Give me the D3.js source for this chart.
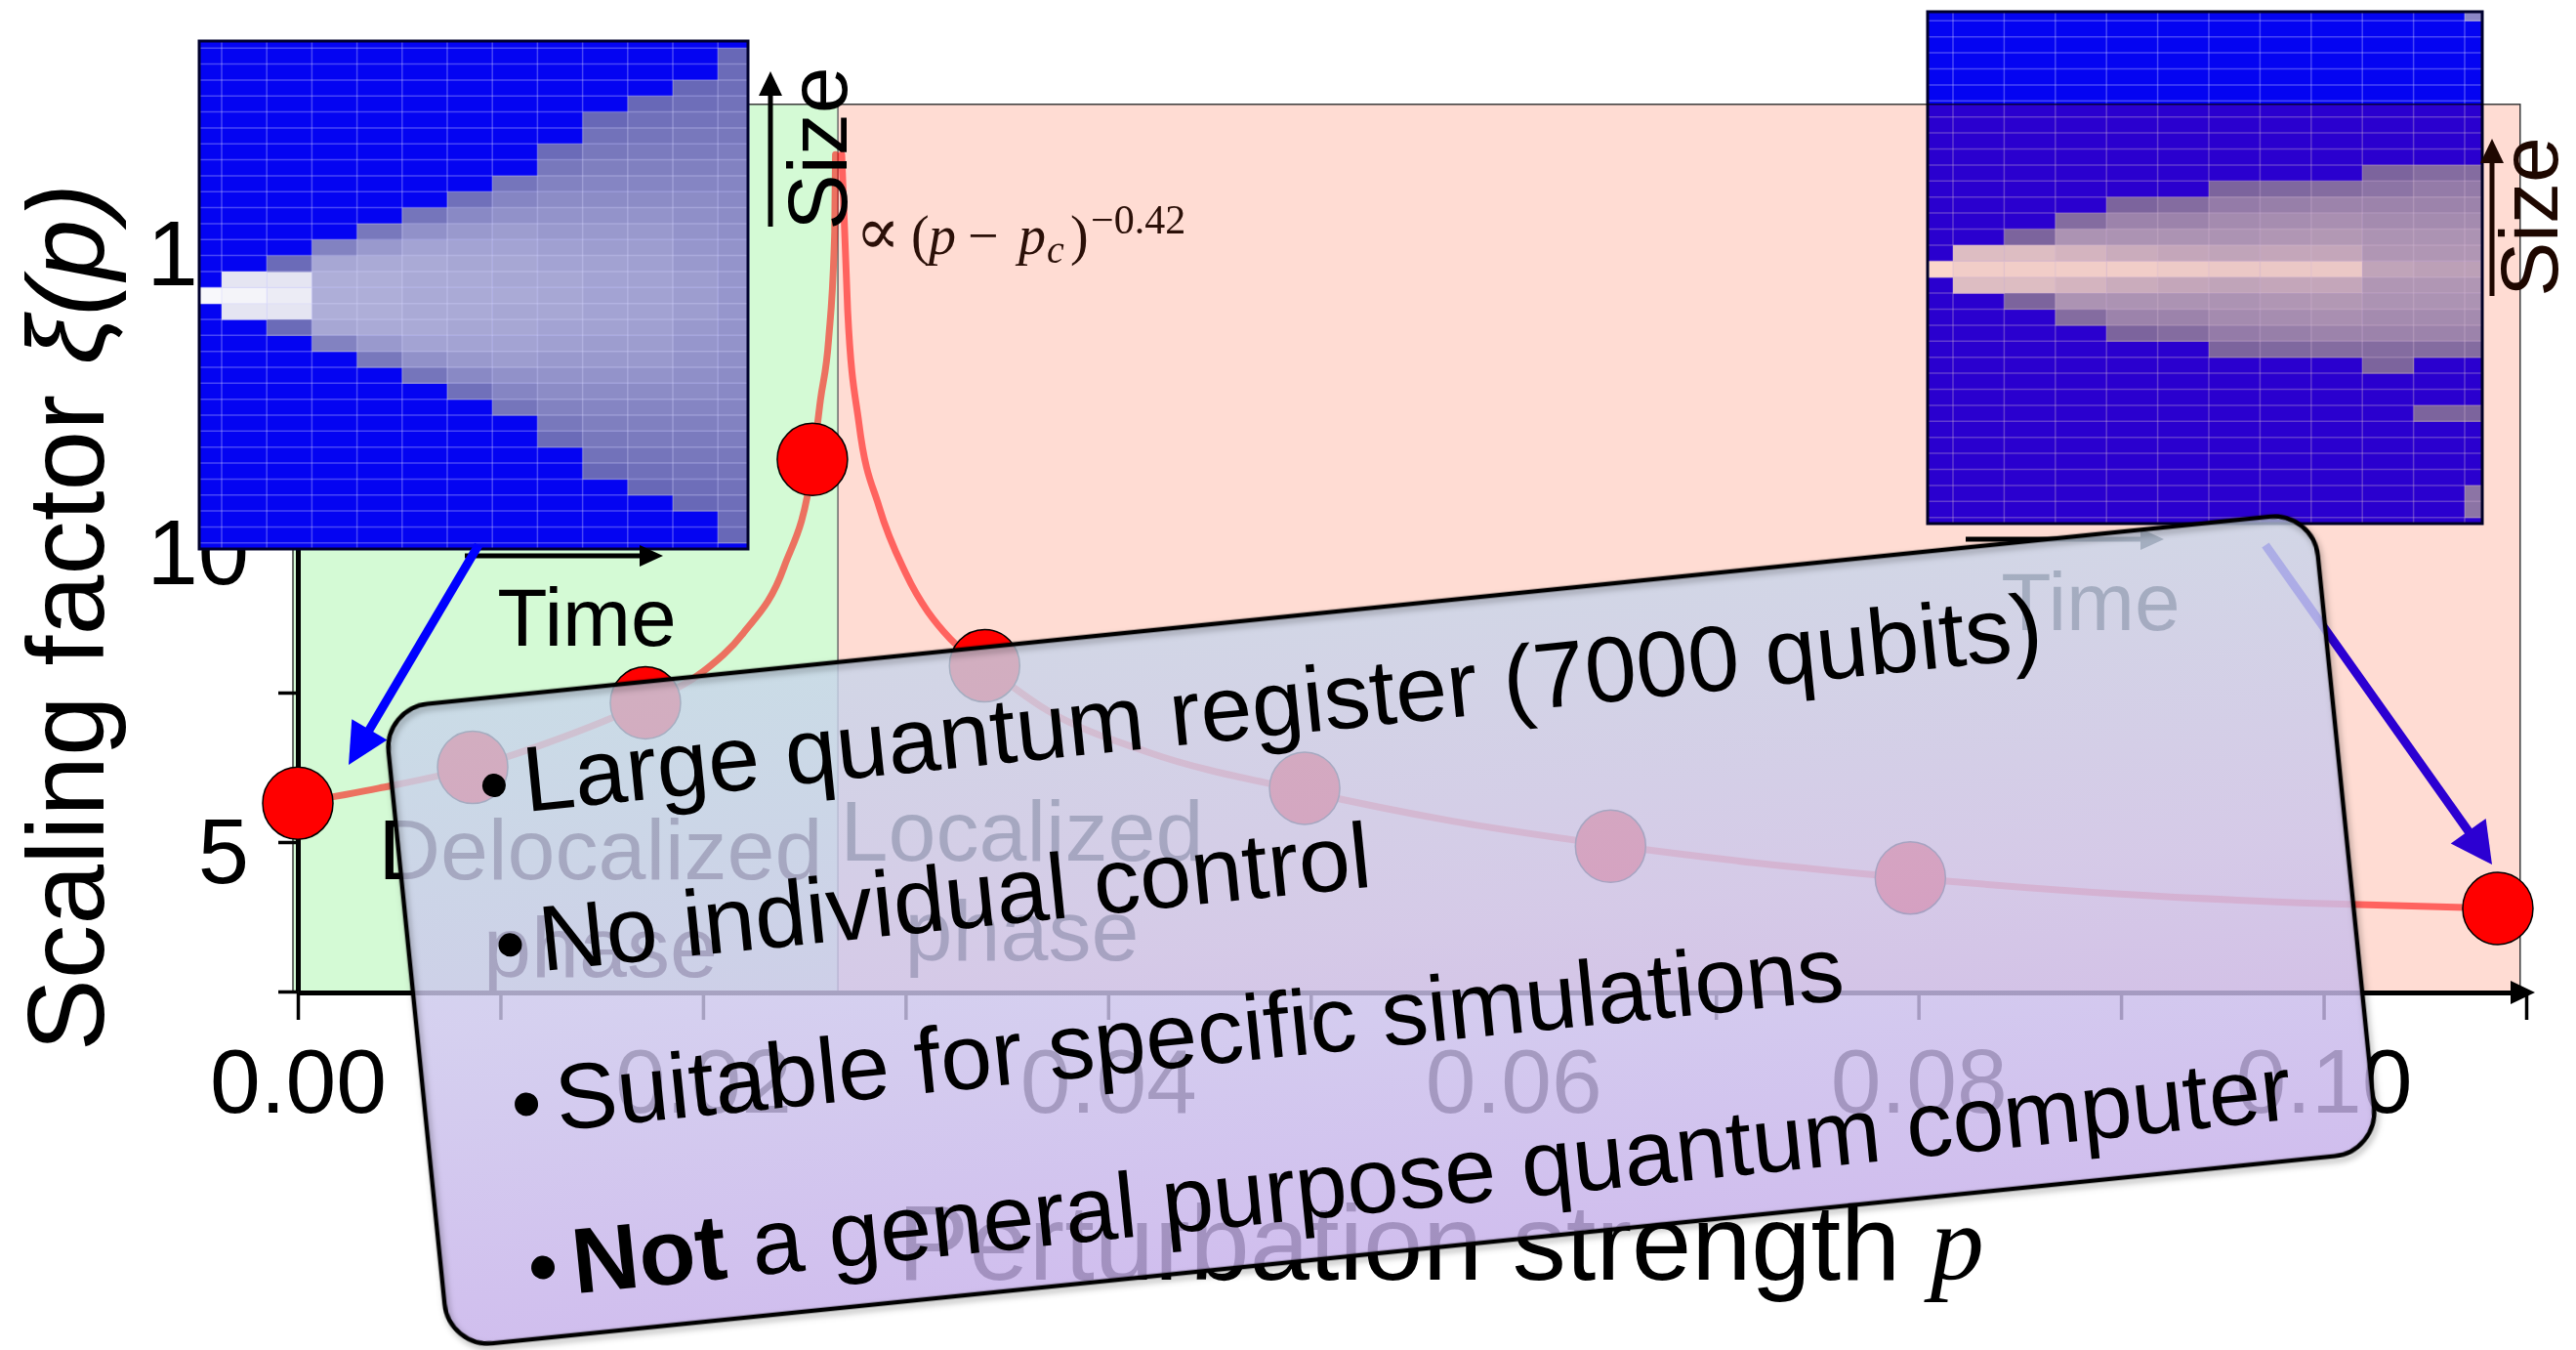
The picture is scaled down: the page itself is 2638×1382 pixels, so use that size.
<!DOCTYPE html>
<html>
<head>
<meta charset="utf-8">
<script src="https://cdn.jsdelivr.net/npm/d3@7"></script>
<style>
  html, body { margin: 0; padding: 0; background: #ffffff; }
  svg { display: block; }
</style>
</head>
<body>
<svg id="chart" width="2638" height="1382"></svg>
<script>
// ---------- data ----------
// measured scaling factor xi(p) versus perturbation strength p
const perturbation  = [0.0, 0.00863, 0.01716, 0.0254, 0.0339, 0.0497, 0.0648, 0.0796, 0.1086];
const scalingFactor = [5.65, 6.25, 7.33, 11.4, 7.95, 5.9, 4.93, 4.4, 3.89];

// critical perturbation separating the two phases
const criticalP = 0.02666;

// fitted divergence, delocalized side (p < pc)
const fitLeftP  = [0.0, 0.004, 0.00863, 0.012, 0.01716, 0.020, 0.022, 0.024, 0.0254, 0.0258, 0.0262, 0.0265, 0.02654];
const fitLeftXi = [5.65, 5.9, 6.25, 6.62, 7.33, 7.85, 8.5, 9.6, 11.3, 12.4, 13.4, 15.2, 16.5];
// fitted divergence, localized side (p > pc)
const fitRightP  = [0.02685, 0.02714, 0.0277, 0.0287, 0.0300, 0.0322, 0.0339, 0.037, 0.042, 0.0497, 0.057, 0.0648, 0.072, 0.0796, 0.09, 0.1, 0.1086];
const fitRightXi = [16.5, 13.9, 12.0, 10.6, 9.5, 8.4, 7.95, 7.2, 6.5, 5.85, 5.35, 4.95, 4.65, 4.4, 4.13, 3.97, 3.89];

const xTickValues = [0, 0.01, 0.02, 0.03, 0.04, 0.05, 0.06, 0.07, 0.08, 0.09, 0.10, 0.11];
const yTickValues = [2.5, 5, 7.5, 10, 12.5, 15];

const phaseNames = [["Delocalized", "phase"], ["Localized", "phase"]];
const bulletItems = [
  { bold: "", rest: "Large quantum register (7000 qubits)" },
  { bold: "", rest: "No individual control" },
  { bold: "", rest: "Suitable for specific simulations" },
  { bold: "Not", rest: " a general purpose quantum computer" }
];

// spreading maps: per time step, occupation from the centre row outwards
const delocalizedSpread = [
  [1.0],
  [0.98, 0.9],
  [0.94, 0.9, 0.22],
  [0.62, 0.62, 0.58, 0.36],
  [0.62, 0.62, 0.6, 0.5, 0.3],
  [0.6, 0.6, 0.6, 0.56, 0.45, 0.28],
  [0.6, 0.6, 0.58, 0.56, 0.5, 0.4, 0.25],
  [0.6, 0.58, 0.58, 0.56, 0.52, 0.45, 0.38, 0.28],
  [0.58, 0.58, 0.56, 0.54, 0.5, 0.46, 0.42, 0.36, 0.3, 0.22],
  [0.56, 0.56, 0.55, 0.52, 0.5, 0.46, 0.42, 0.38, 0.34, 0.3, 0.26, 0.2],
  [0.55, 0.55, 0.54, 0.52, 0.5, 0.46, 0.42, 0.38, 0.35, 0.32, 0.28, 0.25, 0.2],
  [0.52, 0.52, 0.5, 0.48, 0.46, 0.44, 0.42, 0.38, 0.35, 0.32, 0.3, 0.27, 0.24, 0.2],
  [0.48, 0.48, 0.47, 0.46, 0.44, 0.42, 0.4, 0.38, 0.36, 0.33, 0.3, 0.28, 0.26, 0.24, 0.22, 0.2]
];
// localized map: per time step, first occupied row and values downward
const localizedSpread = [
  { from: 0,  v: [1.0] },
  { from: -1, v: [0.85, 0.95, 0.85] },
  { from: -2, v: [0.3, 0.85, 0.95, 0.85, 0.3] },
  { from: -3, v: [0.35, 0.6, 0.8, 0.95, 0.8, 0.6, 0.35] },
  { from: -4, v: [0.3, 0.5, 0.6, 0.75, 0.95, 0.75, 0.6, 0.5, 0.3] },
  { from: -4, v: [0.35, 0.5, 0.6, 0.72, 0.93, 0.72, 0.6, 0.5, 0.35] },
  { from: -5, v: [0.3, 0.45, 0.55, 0.6, 0.7, 0.92, 0.7, 0.6, 0.55, 0.45, 0.3] },
  { from: -5, v: [0.32, 0.47, 0.56, 0.62, 0.72, 0.92, 0.72, 0.62, 0.56, 0.47, 0.32] },
  { from: -5, v: [0.35, 0.5, 0.58, 0.63, 0.72, 0.92, 0.72, 0.63, 0.58, 0.5, 0.35] },
  { from: -6, v: [0.3, 0.4, 0.5, 0.55, 0.6, 0.62, 0.7, 0.62, 0.6, 0.55, 0.5, 0.35, 0.3] },
  { from: -6, v: [0.35, 0.45, 0.5, 0.55, 0.6, 0.62, 0.68, 0.62, 0.6, 0.55, 0.5, 0.35, 0, 0, 0, 0.3] },
  { from: -16, v: [0.4, 0, 0, 0, 0, 0, 0, 0, 0, 0, 0.35, 0.45, 0.5, 0.55, 0.6, 0.62, 0.68, 0.62, 0.6, 0.55, 0.5, 0.35, 0, 0, 0, 0.3, 0, 0, 0, 0, 0.4, 0.4] }
];

// ---------- setup ----------
const SANS = "'Liberation Sans', Arial, Helvetica, sans-serif";
const SERIF = "'Liberation Serif', 'Times New Roman', 'DejaVu Serif', serif";
const svg = d3.select("#chart");
const defs = svg.append("defs");

const x = d3.scaleLinear().domain([0, 0.11]).range([305, 2587]);
const y = d3.scaleLinear().domain([2.5, 15]).range([1015, 250]);
const pMax = 0.1097, xiMax = 17.34;

// ---------- plot background ----------
const plot = svg.append("g");
const plotTop = y(xiMax), plotBottom = y(2.5);
plot.append("rect")
  .attr("x", x(0) - 5).attr("y", plotTop)
  .attr("width", x(criticalP) - x(0) + 5).attr("height", plotBottom - plotTop)
  .attr("fill", "#d4fad5");
plot.append("rect")
  .attr("x", x(criticalP)).attr("y", plotTop)
  .attr("width", x(pMax) - x(criticalP)).attr("height", plotBottom - plotTop)
  .attr("fill", "#ffdcd3");
plot.append("line")
  .attr("x1", x(criticalP)).attr("x2", x(criticalP))
  .attr("y1", plotTop).attr("y2", plotBottom)
  .attr("stroke", "#6a6a6a").attr("stroke-width", 1.5);
plot.append("rect")
  .attr("x", x(0) - 5).attr("y", plotTop)
  .attr("width", x(pMax) - x(0) + 5).attr("height", plotBottom - plotTop)
  .attr("fill", "none").attr("stroke", "#3a3a3a").attr("stroke-width", 1.5);

// ---------- fit curve ----------
const line = d3.line().x(d => x(d[0])).y(d => y(d[1])).curve(d3.curveMonotoneX);
[d3.zip(fitLeftP, fitLeftXi), d3.zip(fitRightP, fitRightXi)].forEach(seg => {
  plot.append("path").datum(seg)
    .attr("d", line)
    .attr("fill", "none")
    .attr("stroke", "#ff0000").attr("stroke-opacity", 0.55)
    .attr("stroke-width", 7).attr("stroke-linecap", "round");
});

// ---------- axes ----------
const xAxis = d3.axisBottom(x)
  .tickValues(xTickValues)
  .tickSizeInner(28).tickSizeOuter(0).tickPadding(29)
  .tickFormat(d => (Math.round(d * 100) % 2 === 0) ? d3.format(".2f")(d) : "");
const gx = svg.append("g").attr("transform", `translate(0,${plotBottom + 1})`).call(xAxis);
gx.select(".domain").attr("stroke", "#000").attr("stroke-width", 5);
gx.selectAll(".tick line").attr("stroke", "#000").attr("stroke-width", 3.5);
gx.selectAll(".tick text").attr("font-family", SANS).attr("font-size", 93).attr("fill", "#000");
gx.append("path")
  .attr("d", `M${x(0.11) + 9},0 L${x(0.11) - 16},-12 L${x(0.11) - 16},12 Z`)
  .attr("fill", "#000");

const yAxis = d3.axisLeft(y)
  .tickValues(yTickValues)
  .tickSizeInner(20).tickSizeOuter(0).tickPadding(30)
  .tickFormat(d => (d % 5 === 0) ? d : "");
const gy = svg.append("g").attr("transform", `translate(${x(0)},0)`).call(yAxis);
gy.select(".domain").attr("stroke", "#000").attr("stroke-width", 5);
gy.selectAll(".tick line").attr("stroke", "#000").attr("stroke-width", 3.5);
gy.selectAll(".tick text").attr("font-family", SANS).attr("font-size", 94)
  .attr("fill", "#000").attr("dy", "0.44em");

// axis titles
svg.append("text")
  .attr("transform", "translate(106,632) rotate(-90)")
  .attr("text-anchor", "middle")
  .attr("font-family", SANS).attr("font-size", 111).attr("fill", "#000")
  .call(t => {
    t.append("tspan").text("Scaling factor ");
    t.append("tspan").attr("font-style", "italic").text("ξ(p)");
  });
svg.append("text")
  .attr("x", 919).attr("y", 1310)
  .attr("font-family", SANS).attr("font-size", 110).attr("fill", "#000")
  .call(t => {
    t.append("tspan").text("Perturbation strength ");
    t.append("tspan").attr("font-family", SERIF).attr("font-style", "italic").text("p");
  });

// ---------- phase labels ----------
const phasePos = [
  { cx: 615, y1: 900, y2: 1000 },
  { cx: 1046.5, y1: 881, y2: 983 }
];
phaseNames.forEach((names, i) => {
  const p = phasePos[i];
  const t = svg.append("text")
    .attr("text-anchor", "middle")
    .attr("font-family", SANS).attr("font-size", 88).attr("fill", "#000");
  t.append("tspan").attr("x", p.cx).attr("y", p.y1).text(names[0]);
  t.append("tspan").attr("x", p.cx).attr("y", p.y2).text(names[1]);
});

// ---------- scaling-law annotation ----------
svg.append("text")
  .attr("y", 260)
  .attr("font-family", SERIF).attr("font-size", 56).attr("fill", "#2b1008")
  .call(t => {
    t.append("tspan").attr("x", 876).attr("font-family", "'DejaVu Serif', serif").attr("font-size", 68).text("∝");
    t.append("tspan").attr("x", 933).text("(");
    t.append("tspan").attr("x", 951).attr("font-style", "italic").text("p");
    t.append("tspan").attr("x", 991).text("−");
    t.append("tspan").attr("x", 1043).attr("font-style", "italic").text("p");
    t.append("tspan").attr("x", 1072).attr("dy", 9).attr("font-size", 40).attr("font-style", "italic").text("c");
    t.append("tspan").attr("x", 1096).attr("dy", -9).text(")");
    t.append("tspan").attr("x", 1117).attr("dy", -21).attr("font-size", 42).text("−0.42");
  });

// ---------- measured points ----------
svg.append("g").selectAll("ellipse")
  .data(d3.zip(perturbation, scalingFactor))
  .join("ellipse")
  .attr("cx", d => x(d[0])).attr("cy", d => y(d[1]))
  .attr("rx", 36).attr("ry", 37)
  .attr("fill", "#ff0000").attr("stroke", "#000").attr("stroke-width", 1.5);

// ---------- spreading insets ----------
const heatStops = [0, 0.05, 0.3, 0.6, 1];
const heatLeft = d3.scaleLinear().domain(heatStops)
  .range(["#0404f2", "#5050b0", "#7878bc", "#aaaad6", "#f8f8fb"]);
const heatRight = d3.scaleLinear().domain(heatStops)
  .range(["#2a00fa", "#5a48b4", "#7c74be", "#acaad8", "#fbf8f6"]);

function drawInset(id, box, colX, rowY, cells, nCols, rowRange, heat, splitY) {
  defs.append("clipPath").attr("id", id)
    .append("rect").attr("x", box.x).attr("y", box.y).attr("width", box.w).attr("height", box.h);
  const g = svg.append("g");
  const inner = g.append("g").attr("clip-path", `url(#${id})`);
  inner.append("rect").attr("x", box.x).attr("y", box.y).attr("width", box.w).attr("height", box.h)
    .attr("fill", heat(0));
  if (splitY) {
    // part of the map that sits above the plot frame keeps a plain blue
    inner.append("rect").attr("x", box.x).attr("y", box.y).attr("width", box.w).attr("height", splitY - box.y)
      .attr("fill", "#0404f2");
  }
  inner.selectAll("rect.cell").data(cells.filter(c => c.v > 0)).join("rect")
    .attr("class", "cell")
    .attr("x", c => colX(c.col)).attr("y", c => rowY(c.row))
    .attr("width", colX(1) - colX(0) + 0.5).attr("height", rowY(1) - rowY(0) + 0.5)
    .attr("fill", c => heat(c.v));
  inner.selectAll("line.v").data(d3.range(1, nCols)).join("line")
    .attr("class", "v")
    .attr("x1", i => colX(i)).attr("x2", i => colX(i))
    .attr("y1", box.y).attr("y2", box.y + box.h)
    .attr("stroke", "rgba(215,215,255,0.32)").attr("stroke-width", 1.5);
  inner.selectAll("line.h").data(d3.range(rowRange[0], rowRange[1] + 1)).join("line")
    .attr("class", "h")
    .attr("x1", box.x).attr("x2", box.x + box.w)
    .attr("y1", r => rowY(r)).attr("y2", r => rowY(r))
    .attr("stroke", "rgba(215,215,255,0.32)").attr("stroke-width", 1.5);
  g.append("rect").attr("x", box.x).attr("y", box.y).attr("width", box.w).attr("height", box.h)
    .attr("fill", "none").attr("stroke", "#00002e").attr("stroke-width", 3);
  return g;
}

// delocalized: symmetric spreading
const leftCells = [];
delocalizedSpread.forEach((vals, col) => {
  vals.forEach((v, k) => {
    leftCells.push({ col, row: k, v });
    if (k > 0) leftCells.push({ col, row: -k, v });
  });
});
const leftColX = d3.scaleLinear().domain([0, 1]).range([180.8, 227]);
const leftRowY = d3.scaleLinear().domain([0, 1]).range([294.3, 310.64]);
drawInset("clipLeft", { x: 204, y: 42, w: 562, h: 520 }, leftColX, leftRowY, leftCells, 13, [-15, 16], heatLeft, null);

// localized: confined spreading, blended onto the plot background
const rightCells = [];
localizedSpread.forEach((c, col) => {
  c.v.forEach((v, k) => rightCells.push({ col, row: c.from + k, v }));
});
const rightColX = d3.scaleLinear().domain([0, 1]).range([1947.6, 2000]);
const rightRowY = d3.scaleLinear().domain([0, 1]).range([267.3, 283.7]);
drawInset("clipRight", { x: 1974, y: 12, w: 568, h: 524 }, rightColX, rightRowY, rightCells, 12, [-15, 16], heatRight, plotTop)
  .style("mix-blend-mode", "multiply");

// inset axis hints
function arrow(g, x1, y1, x2, y2, color, width, headLen, headHalf) {
  const dx = x2 - x1, dy = y2 - y1, len = Math.hypot(dx, dy);
  const ux = dx / len, uy = dy / len;
  const bx = x2 - ux * headLen, by = y2 - uy * headLen;
  g.append("line")
    .attr("x1", x1).attr("y1", y1).attr("x2", bx + ux * 2).attr("y2", by + uy * 2)
    .attr("stroke", color).attr("stroke-width", width);
  g.append("path")
    .attr("d", `M${x2},${y2} L${bx - uy * headHalf},${by + ux * headHalf} L${bx + uy * headHalf},${by - ux * headHalf} Z`)
    .attr("fill", color);
}
const hints = svg.append("g");
arrow(hints, 476, 569, 679, 569, "#000", 5, 24, 11);
arrow(hints, 789, 232, 789, 73, "#000", 5, 25, 12);
arrow(hints, 2013, 552, 2216, 552, "#000", 5, 24, 11);
arrow(hints, 2552, 303, 2552, 142, "#1e0700", 5, 25, 12);
hints.append("text").attr("x", 601).attr("y", 661).attr("text-anchor", "middle")
  .attr("font-family", SANS).attr("font-size", 84).attr("fill", "#000").text("Time");
hints.append("text").attr("x", 2141).attr("y", 645).attr("text-anchor", "middle")
  .attr("font-family", SANS).attr("font-size", 84).attr("fill", "#000").text("Time");
hints.append("text").attr("transform", "translate(867,152) rotate(-90)").attr("text-anchor", "middle")
  .attr("font-family", SANS).attr("font-size", 86).attr("fill", "#000").text("Size");
hints.append("text").attr("transform", "translate(2619,222) rotate(-90)").attr("text-anchor", "middle")
  .attr("font-family", SANS).attr("font-size", 84).attr("fill", "#1e0700").text("Size");

// pointers from the insets to the corresponding points
arrow(hints, 490, 558, 357, 783, "#0000ff", 9, 42, 21);
arrow(hints, 2320, 558, 2552, 885, "#2c00d2", 9, 42, 22);

// ---------- summary card ----------
const grad = defs.append("linearGradient").attr("id", "cardFill")
  .attr("x1", 0).attr("y1", 0).attr("x2", 0).attr("y2", 1);
grad.append("stop").attr("offset", "0%").attr("stop-color", "rgb(200,213,234)");
grad.append("stop").attr("offset", "50%").attr("stop-color", "rgb(204,198,236)");
grad.append("stop").attr("offset", "100%").attr("stop-color", "rgb(198,176,234)");
const shadow = defs.append("filter").attr("id", "cardShadow")
  .attr("x", "-5%").attr("y", "-5%").attr("width", "110%").attr("height", "115%");
shadow.append("feDropShadow").attr("dx", 2).attr("dy", 4).attr("stdDeviation", 3)
  .attr("flood-color", "#000").attr("flood-opacity", 0.3);

const card = svg.append("g").attr("transform", "translate(1414.5,952) rotate(-5.8)");
card.append("rect")
  .attr("x", -993).attr("y", -329).attr("width", 1986).attr("height", 658).attr("rx", 45)
  .attr("fill", "url(#cardFill)").attr("fill-opacity", 0.82);
card.append("rect")
  .attr("x", -993).attr("y", -329).attr("width", 1986).attr("height", 658).attr("rx", 45)
  .attr("fill", "none").attr("stroke", "#000").attr("stroke-width", 4.5)
  .attr("filter", "url(#cardShadow)");

const baselines = [-209, -45, 119, 287];
bulletItems.forEach((item, i) => {
  card.append("circle").attr("cx", -889).attr("cy", baselines[i] - 30).attr("r", 12).attr("fill", "#000");
  const t = card.append("text")
    .attr("x", -859).attr("y", baselines[i])
    .attr("font-family", SANS).attr("font-size", 95).attr("fill", "#000");
  if (item.bold) t.append("tspan").attr("font-weight", "bold").text(item.bold);
  t.append("tspan").text(item.rest);
});
</script>
</body>
</html>
